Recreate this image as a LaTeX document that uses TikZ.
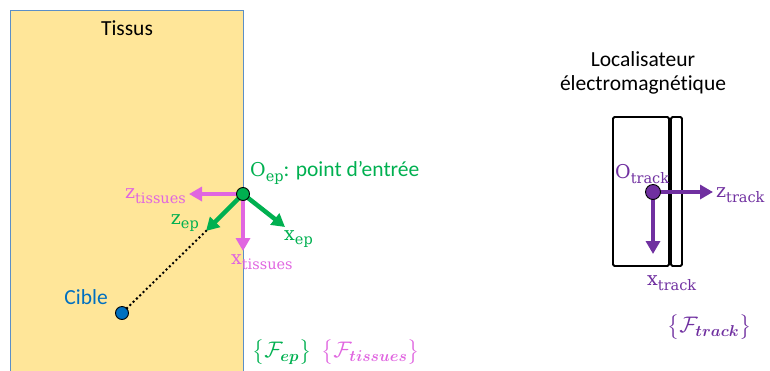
\RequirePackage{fix-cm}
\documentclass[tikz,border=0pt]{standalone}
\usepackage{fontspec}
\usepackage{amsmath}
\setmainfont[Ligatures={NoCommon}]{Carlito}
\newfontfamily\axserif{DejaVu Serif}
\usetikzlibrary{arrows.meta}
\definecolor{tisfill}{HTML}{FFE699}
\definecolor{tisline}{HTML}{5B8FC7}
\definecolor{epgreen}{HTML}{00B050}
\definecolor{tispink}{HTML}{E066E0}
\definecolor{cibleblue}{HTML}{0070C0}
\definecolor{trpurple}{HTML}{7030A0}
\newcommand{\axlab}[2]{{\axserif\fontsize{19}{22}\selectfont #1\raisebox{-4.5pt}{\fontsize{14.5}{16}\selectfont #2}}}
\newcommand{\frm}[1]{{\fontsize{22.5}{26}\selectfont$\big\{\mathcal{F}_{\boldsymbol{#1}}\big\}$}}
\begin{document}
\begin{tikzpicture}[x=1pt,y=-1pt,
  txt/.style={inner sep=0pt,font=\fontsize{21.5}{25}\selectfont},
  axarrow/.style={line width=4.5pt,-{Triangle[length=13pt,width=14pt]}},
  origin/.style={circle,draw=black,line width=0.9pt,minimum size=13pt,inner sep=0pt},
  lab/.style={inner sep=0pt}]
\useasboundingbox (0,0) rectangle (770,370);
% tissue block
\fill[tisfill] (10,10.5) rectangle (243.5,372);
\draw[tisline,line width=0.8pt] (10,372) -- (10,10.5) -- (243.5,10.5) -- (243.5,372);
\node[txt] (tissus) at (127,28) {Tissus};
% points
\coordinate (oep) at (243,194);
\coordinate (ztis) at (189,194);
\coordinate (xtis) at (243,251);
\coordinate (zep) at (206,231);
\coordinate (xep) at (285,227);
\draw[axarrow,tispink] (oep) -- (ztis);
\draw[axarrow,tispink] (oep) -- (xtis);
\draw[axarrow,epgreen] (oep) -- (zep);
\draw[axarrow,epgreen] (oep) -- (xep);
\node[origin,fill=cibleblue] (cible) at (122,313) {};
\draw[line width=2.8pt,line cap=round,dash pattern=on 0pt off 4.6pt] (zep) -- (cible);
\node[origin,fill=epgreen] (oepdot) at (oep) {};
\node[txt,text=cibleblue,anchor=east] (ciblelab) at (108,297) {Cible};
\node[lab,text=tispink,anchor=east] (ztislab) at (186,196) {\axlab{z}{tissues}};
\node[lab,text=tispink,anchor=west] (xtislab) at (231,262) {\axlab{x}{tissues}};
\node[lab,text=epgreen,anchor=east] (zeplab) at (199,223) {\axlab{z}{ep}};
\node[lab,text=epgreen,anchor=west] (xeplab) at (284,239) {\axlab{x}{ep}};
\node[lab,text=epgreen,anchor=west] (oeplab) at (250,173) {\axlab{O}{ep}{\fontsize{21.5}{25}\selectfont: point d’entrée}};
\node[lab,text=epgreen,anchor=west] (fep) at (252,352) {\frm{ep}};
\node[lab,text=tispink,anchor=west] (ftis) at (321,352) {\frm{tissues}};
% tracker
\node[txt] (loc1) at (643,59) {Localisateur};
\node[txt] (loc2) at (643,85) {électromagnétique};
\draw[line width=1.8pt,rounded corners=1.5pt] (613,117) rectangle (669,266);
\draw[line width=1.8pt,rounded corners=1.5pt] (671,117) rectangle (682,266);
\coordinate (otr) at (653,192);
\coordinate (ztr) at (713,192);
\coordinate (xtr) at (653,254);
\draw[axarrow,trpurple] (otr) -- (ztr);
\draw[axarrow,trpurple] (otr) -- (xtr);
\node[origin,fill=trpurple,minimum size=15pt] (otrdot) at (otr) {};
\node[lab,text=trpurple,anchor=west] (ztrlab) at (716,195) {\axlab{z}{track}};
\node[lab,text=trpurple,anchor=west] (xtrlab) at (647,283) {\axlab{x}{track}};
\node[lab,text=trpurple,anchor=west] (otrlab) at (615,174) {\axlab{O}{track}};
\node[lab,text=trpurple,anchor=west] (ftr) at (667,327) {\frm{track}};
\end{tikzpicture}
\end{document}
